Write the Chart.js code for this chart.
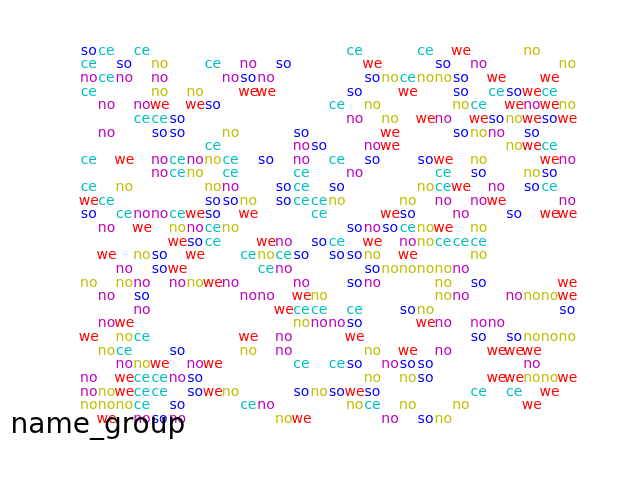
<!DOCTYPE html>
<html>
<head>
<meta charset="utf-8">
<script src="https://cdn.jsdelivr.net/npm/chart.js@4"></script>
<style>
html,body{margin:0;padding:0;background:#fff;}
canvas{display:block;}
</style>
</head>
<body>
<canvas id="c" width="640" height="480"></canvas>
<script>
// group codes and the text shown for each group
const groupCodes  = ['s', 'c', 'm', 'y', 'w'];
const groupLabels = ['so', 'ce', 'no', 'no', 'we'];
const groupColors = ['#0000ff', '#00bfbf', '#bf00bf', '#bfbf00', '#ff0000'];
const legendTitle = 'name_group';

// grid cells per row: "<column><group code>"
const cellRows = [
  "0s 1c 3c 15c 19c 21w 25y",
  "0c 2s 4y 7c 9m 11s 16w 20s 22m 27y",
  "0m 1c 2m 4m 8m 9s 10m 16s 17y 18c 19y 20y 21s 23w 26w",
  "0c 4y 6y 9w 10w 15s 18w 21s 23c 24s 25w 26c",
  "1m 3m 4w 6w 7s 14c 16y 21y 22c 24w 25m 26w 27y",
  "3c 4c 5s 15m 17y 19w 20m 22w 23s 24y 25w 26s 27w",
  "1m 4s 5s 8y 12s 17w 21s 22y 23m 25s",
  "7c 12m 13s 16m 17w 24y 25w 26c",
  "0c 2w 4m 5c 6m 7y 8c 10s 12m 14c 16s 19s 20w 22y 26w 27m",
  "4m 5c 6y 8c 12c 15m 20c 22s 25y 26s",
  "0c 2y 7y 8m 11s 12c 14s 19y 20c 21w 23m 25s 26c",
  "0w 1c 7s 8s 9y 11s 12c 13c 14y 18y 20m 22m 23w 27m",
  "0s 2c 3m 4m 5c 6w 7s 9w 13c 17w 18s 21m 24s 26w 27w",
  "1m 3w 5y 6m 7c 8y 15s 16m 17s 18c 19y 20w 22y",
  "5w 6s 7c 10w 11m 13s 14c 16w 18m 19y 20c 21c 22c",
  "1w 3y 4s 6w 9c 10y 11c 12s 14s 15s 16y 18w 22y",
  "2m 4s 5w 10c 11m 16s 17y 18y 19y 20y 21m",
  "0y 2y 3m 5m 6y 7w 8m 12m 15s 16m 20y 22s 27w",
  "1m 3s 9m 10m 12w 13y 20y 21m 24m 25y 26y 27w",
  "3m 11w 12c 13c 15c 18s 19y 27s",
  "1m 2w 12y 13m 14m 15s 19w 20m 22m 23m",
  "0w 2y 3c 9w 11m 15w 22s 24s 25y 26y 27y",
  "1y 2c 5s 9y 11m 16y 18w 20m 23w 24w 25w",
  "2m 3y 4w 6m 7w 12c 14c 15s 17m 18s 19s 25m",
  "0m 2w 3c 4c 5m 6s 16y 18y 19s 23w 24w 25y 26y 27w",
  "0m 1y 2w 3c 4c 6s 7w 8y 12s 13y 14s 15w 16s 22c 24c 26w",
  "0y 1y 2y 3c 5s 9c 10m 15y 16c 18y 21y 25w",
  "1w 3m 4s 5m 11y 12w 17m 19s 20y"
];

const nCols = 28;
const nRows = cellRows.length;

// build one dataset per group from the cell table
const datasets = groupCodes.map((code, gi) => ({
  label: groupLabels[gi],
  data: [],
  pointRadius: 0,
  pointHoverRadius: 0,
  textColor: groupColors[gi],
  backgroundColor: groupColors[gi],
  borderColor: groupColors[gi]
}));
cellRows.forEach((row, r) => {
  row.trim().split(/\s+/).forEach(tok => {
    const col = parseInt(tok, 10);
    const code = tok.replace(/[0-9]/g, '');
    const gi = groupCodes.indexOf(code);
    if (gi >= 0) datasets[gi].data.push({x: col, y: r});
  });
});

const textPlugin = {
  id: 'cellText',
  afterDatasetsDraw(chart) {
    const ctx = chart.ctx;
    ctx.save();
    ctx.font = '14px "DejaVu Sans"';
    ctx.textAlign = 'center';
    ctx.textBaseline = 'alphabetic';
    chart.data.datasets.forEach((ds, i) => {
      const meta = chart.getDatasetMeta(i);
      ctx.fillStyle = ds.textColor;
      meta.data.forEach(el => {
        ctx.fillText(ds.label, el.x, el.y + 3.8);
      });
    });
    ctx.fillStyle = '#000000';
    ctx.textAlign = 'left';
    ctx.font = '28px "DejaVu Sans"';
    ctx.fillText(legendTitle, 10.5, 433);
    ctx.restore();
  }
};

new Chart(document.getElementById('c'), {
  type: 'scatter',
  data: { datasets },
  options: {
    responsive: false,
    animation: false,
    events: [],
    layout: { padding: { left: 88.8, right: 72.7, top: 51, bottom: 61 } },
    plugins: { legend: { display: false }, tooltip: { enabled: false }, title: { display: false } },
    scales: {
      x: { type: 'linear', min: 0, max: nCols - 1, display: false },
      y: { type: 'linear', min: 0, max: nRows - 1, reverse: true, display: false }
    }
  },
  plugins: [textPlugin]
});
</script>
</body>
</html>
